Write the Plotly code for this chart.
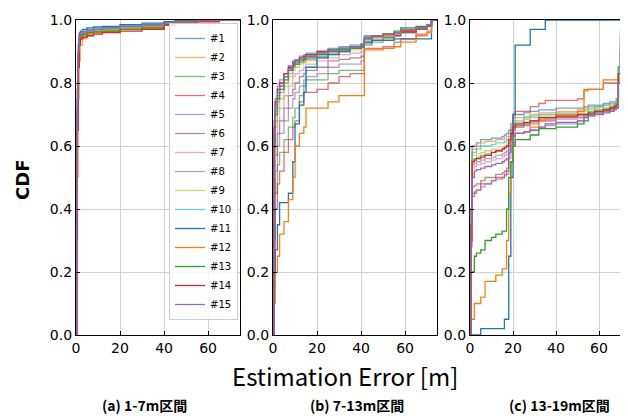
import plotly.graph_objects as go

names = ["#%d" % i for i in range(1, 16)]
colors = ["#1f77b4", "#ff7f0e", "#2ca02c", "#d62728", "#9467bd",
          "#8c564b", "#e377c2", "#7f7f7f", "#bcbd22", "#17becf",
          "#1f77b4", "#ff7f0e", "#2ca02c", "#d62728", "#9467bd"]

# (a) 1-7m
xa = [0, 0.3, 0.6, 1.0, 1.5, 2, 3, 5, 8, 12, 20, 30, 40, 45, 55, 65, 75]
ya = [
    [0, 0.4, 0.75, 0.9, 0.95, 0.96, 0.965, 0.97, 0.975, 0.975, 0.98, 0.985, 0.99, 0.995, 0.998, 1.0, 1.0],
    [0, 0.2, 0.5, 0.75, 0.87, 0.92, 0.94, 0.95, 0.96, 0.965, 0.97, 0.98, 0.99, 0.995, 0.998, 1.0, 1.0],
    [0, 0.35, 0.7, 0.88, 0.94, 0.95, 0.955, 0.96, 0.965, 0.965, 0.97, 0.975, 0.985, 1.0, 1.0, 1.0, 1.0],
    [0, 0.3, 0.68, 0.86, 0.93, 0.945, 0.95, 0.955, 0.96, 0.965, 0.97, 0.975, 0.985, 0.99, 0.995, 1.0, 1.0],
    [0, 0.38, 0.72, 0.89, 0.945, 0.955, 0.96, 0.965, 0.97, 0.975, 0.98, 0.985, 0.99, 0.995, 0.998, 1.0, 1.0],
    [0, 0.33, 0.7, 0.87, 0.94, 0.95, 0.955, 0.96, 0.965, 0.97, 0.975, 0.98, 0.99, 0.995, 0.998, 1.0, 1.0],
    [0, 0.36, 0.72, 0.88, 0.94, 0.955, 0.96, 0.965, 0.97, 0.975, 0.978, 0.983, 0.99, 0.995, 0.998, 1.0, 1.0],
    [0, 0.35, 0.71, 0.88, 0.94, 0.95, 0.958, 0.963, 0.968, 0.972, 0.977, 0.982, 0.99, 0.995, 0.998, 1.0, 1.0],
    [0, 0.34, 0.7, 0.87, 0.935, 0.95, 0.955, 0.962, 0.967, 0.97, 0.975, 0.98, 0.988, 0.995, 0.998, 1.0, 1.0],
    [0, 0.37, 0.73, 0.89, 0.945, 0.958, 0.963, 0.968, 0.972, 0.976, 0.98, 0.985, 0.99, 0.995, 0.998, 1.0, 1.0],
    [0, 0.42, 0.78, 0.92, 0.958, 0.965, 0.97, 0.975, 0.978, 0.98, 0.985, 0.99, 0.995, 0.998, 1.0, 1.0, 1.0],
    [0, 0.3, 0.65, 0.85, 0.92, 0.94, 0.95, 0.955, 0.96, 0.965, 0.97, 0.975, 0.985, 0.99, 0.995, 1.0, 1.0],
    [0, 0.36, 0.71, 0.88, 0.94, 0.95, 0.955, 0.96, 0.962, 0.965, 0.97, 0.975, 0.985, 1.0, 1.0, 1.0, 1.0],
    [0, 0.3, 0.65, 0.85, 0.92, 0.94, 0.945, 0.95, 0.955, 0.96, 0.965, 0.97, 0.985, 0.99, 0.995, 1.0, 1.0],
    [0, 0.4, 0.75, 0.9, 0.95, 0.958, 0.962, 0.966, 0.97, 0.975, 0.98, 0.985, 0.99, 0.995, 0.998, 1.0, 1.0],
]

# (b) 7-13m
xb = [0, 0.5, 1, 2, 3, 5, 7, 9, 10, 12, 14, 15, 20, 25, 30, 35, 40, 41.5, 45, 50, 55, 58, 65, 70, 72, 75]
yb = [
    [0, 0.68, 0.75, 0.79, 0.81, 0.83, 0.855, 0.87, 0.875, 0.885, 0.89, 0.895, 0.9, 0.91, 0.915, 0.92, 0.925, 0.95, 0.95, 0.955, 0.96, 0.965, 0.975, 0.985, 1.0, 1.0],
    [0, 0.6, 0.71, 0.76, 0.79, 0.82, 0.845, 0.86, 0.865, 0.875, 0.88, 0.885, 0.895, 0.9, 0.905, 0.91, 0.915, 0.94, 0.945, 0.95, 0.955, 0.965, 0.975, 0.985, 1.0, 1.0],
    [0, 0.3, 0.45, 0.54, 0.58, 0.62, 0.66, 0.69, 0.72, 0.76, 0.79, 0.81, 0.81, 0.83, 0.84, 0.84, 0.84, 0.92, 0.93, 0.94, 0.95, 0.96, 0.97, 0.98, 1.0, 1.0],
    [0, 0.2, 0.4, 0.48, 0.52, 0.58, 0.62, 0.66, 0.68, 0.74, 0.77, 0.77, 0.78, 0.8, 0.82, 0.83, 0.83, 0.91, 0.91, 0.915, 0.93, 0.94, 0.955, 0.965, 1.0, 1.0],
    [0, 0.38, 0.52, 0.6, 0.64, 0.68, 0.72, 0.75, 0.77, 0.79, 0.81, 0.82, 0.83, 0.85, 0.86, 0.86, 0.87, 0.925, 0.935, 0.945, 0.95, 0.96, 0.97, 0.98, 1.0, 1.0],
    [0, 0.45, 0.57, 0.64, 0.68, 0.72, 0.76, 0.78, 0.8, 0.82, 0.83, 0.84, 0.85, 0.87, 0.875, 0.88, 0.885, 0.93, 0.935, 0.945, 0.95, 0.96, 0.97, 0.98, 1.0, 1.0],
    [0, 0.5, 0.62, 0.68, 0.72, 0.76, 0.79, 0.82, 0.83, 0.84, 0.85, 0.86, 0.87, 0.88, 0.89, 0.895, 0.9, 0.935, 0.94, 0.95, 0.955, 0.965, 0.975, 0.985, 1.0, 1.0],
    [0, 0.58, 0.68, 0.74, 0.77, 0.8, 0.83, 0.85, 0.86, 0.865, 0.87, 0.875, 0.885, 0.895, 0.905, 0.91, 0.915, 0.94, 0.945, 0.95, 0.955, 0.965, 0.975, 0.985, 1.0, 1.0],
    [0, 0.55, 0.66, 0.72, 0.75, 0.79, 0.82, 0.84, 0.85, 0.86, 0.865, 0.87, 0.88, 0.89, 0.9, 0.905, 0.91, 0.94, 0.945, 0.95, 0.955, 0.965, 0.975, 0.985, 1.0, 1.0],
    [0, 0.62, 0.72, 0.76, 0.79, 0.82, 0.845, 0.86, 0.865, 0.875, 0.88, 0.885, 0.895, 0.905, 0.91, 0.915, 0.92, 0.945, 0.95, 0.955, 0.96, 0.97, 0.975, 0.985, 1.0, 1.0],
    [0, 0.15, 0.27, 0.35, 0.42, 0.42, 0.45, 0.55, 0.67, 0.73, 0.77, 0.85, 0.88, 0.89, 0.9, 0.91, 0.915, 0.93, 0.935, 0.935, 0.94, 0.94, 0.94, 0.94, 1.0, 1.0],
    [0, 0.1, 0.2, 0.25, 0.32, 0.36, 0.43, 0.5, 0.6, 0.64, 0.66, 0.72, 0.72, 0.74, 0.76, 0.76, 0.76, 0.905, 0.905, 0.91, 0.915, 0.93, 0.95, 0.96, 1.0, 1.0],
    [0, 0.6, 0.7, 0.75, 0.78, 0.81, 0.84, 0.855, 0.86, 0.87, 0.875, 0.88, 0.89, 0.9, 0.905, 0.91, 0.915, 0.94, 0.95, 0.955, 0.965, 0.975, 0.98, 0.985, 1.0, 1.0],
    [0, 0.66, 0.74, 0.78, 0.8, 0.83, 0.85, 0.865, 0.87, 0.88, 0.885, 0.89, 0.9, 0.905, 0.91, 0.915, 0.92, 0.945, 0.95, 0.955, 0.96, 0.965, 0.975, 0.985, 1.0, 1.0],
    [0, 0.64, 0.73, 0.77, 0.79, 0.82, 0.845, 0.86, 0.87, 0.875, 0.88, 0.885, 0.895, 0.905, 0.91, 0.915, 0.92, 0.945, 0.95, 0.955, 0.96, 0.97, 0.975, 0.985, 1.0, 1.0],
]

# (c) 13-19m
xc = [0, 0.5, 1, 2, 3, 5, 7, 10, 12, 15, 16, 17, 18, 19, 20, 21, 25, 28, 32, 35, 40, 50, 53, 55, 58, 62, 65, 67, 68, 69, 70, 78]
yc = [
    [0, 0.4, 0.6, 0.6, 0.61, 0.62, 0.62, 0.625, 0.625, 0.63, 0.635, 0.64, 0.65, 0.67, 0.69, 0.7, 0.705, 0.71, 0.715, 0.715, 0.72, 0.72, 0.725, 0.73, 0.73, 0.735, 0.74, 0.74, 0.75, 0.85, 0.96, 0.96],
    [0, 0.4, 0.59, 0.59, 0.6, 0.61, 0.615, 0.615, 0.62, 0.62, 0.625, 0.63, 0.64, 0.66, 0.68, 0.69, 0.695, 0.7, 0.705, 0.705, 0.71, 0.715, 0.72, 0.725, 0.725, 0.73, 0.73, 0.735, 0.74, 0.85, 0.95, 0.95],
    [0, 0.35, 0.555, 0.56, 0.565, 0.57, 0.575, 0.58, 0.585, 0.59, 0.595, 0.6, 0.62, 0.64, 0.66, 0.665, 0.67, 0.68, 0.69, 0.69, 0.695, 0.7, 0.7, 0.71, 0.715, 0.72, 0.725, 0.73, 0.735, 0.84, 0.93, 0.93],
    [0, 0.3, 0.44, 0.45, 0.46, 0.48, 0.48, 0.49, 0.5, 0.5, 0.51, 0.52, 0.6, 0.65, 0.7, 0.71, 0.71, 0.725, 0.735, 0.745, 0.745, 0.75, 0.78, 0.78, 0.78, 0.8, 0.8, 0.8, 0.8, 0.8, 0.8, 0.8],
    [0, 0.28, 0.45, 0.455, 0.46, 0.47, 0.48, 0.49, 0.495, 0.5, 0.505, 0.51, 0.56, 0.6, 0.63, 0.64, 0.645, 0.65, 0.66, 0.665, 0.67, 0.68, 0.69, 0.7, 0.71, 0.715, 0.72, 0.72, 0.72, 0.8, 0.9, 0.9],
    [0, 0.3, 0.47, 0.475, 0.48, 0.49, 0.5, 0.5, 0.51, 0.515, 0.52, 0.53, 0.58, 0.62, 0.65, 0.66, 0.665, 0.67, 0.68, 0.68, 0.69, 0.69, 0.695, 0.7, 0.705, 0.71, 0.715, 0.72, 0.72, 0.8, 0.9, 0.9],
    [0, 0.32, 0.53, 0.535, 0.54, 0.545, 0.55, 0.555, 0.56, 0.565, 0.57, 0.575, 0.6, 0.62, 0.645, 0.66, 0.665, 0.675, 0.68, 0.68, 0.685, 0.69, 0.695, 0.7, 0.705, 0.71, 0.72, 0.725, 0.73, 0.83, 0.92, 0.92],
    [0, 0.33, 0.54, 0.545, 0.55, 0.555, 0.56, 0.565, 0.57, 0.575, 0.58, 0.585, 0.61, 0.63, 0.655, 0.665, 0.67, 0.68, 0.685, 0.685, 0.69, 0.695, 0.7, 0.7, 0.705, 0.71, 0.715, 0.72, 0.73, 0.83, 0.92, 0.92],
    [0, 0.38, 0.57, 0.57, 0.575, 0.58, 0.585, 0.59, 0.59, 0.595, 0.6, 0.61, 0.62, 0.64, 0.66, 0.675, 0.685, 0.69, 0.695, 0.695, 0.7, 0.705, 0.71, 0.715, 0.72, 0.72, 0.725, 0.73, 0.74, 0.85, 0.94, 0.94],
    [0, 0.4, 0.58, 0.58, 0.59, 0.6, 0.6, 0.605, 0.61, 0.61, 0.615, 0.62, 0.63, 0.65, 0.67, 0.68, 0.69, 0.695, 0.7, 0.7, 0.705, 0.71, 0.715, 0.72, 0.725, 0.73, 0.735, 0.735, 0.74, 0.85, 0.95, 0.95],
    [0, 0, 0, 0, 0, 0.02, 0.02, 0.02, 0.02, 0.02, 0.05, 0.05, 0.25, 0.5, 0.7, 0.92, 0.92, 0.97, 0.97, 1.0, 1.0, 1.0, 1.0, 1.0, 1.0, 1.0, 1.0, 1.0, 1.0, 1.0, 1.0, 1.0],
    [0, 0.05, 0.05, 0.1, 0.1, 0.12, 0.17, 0.17, 0.19, 0.21, 0.21, 0.3, 0.45, 0.55, 0.6, 0.64, 0.645, 0.66, 0.68, 0.69, 0.7, 0.71, 0.775, 0.78, 0.78, 0.81, 0.81, 0.81, 0.81, 0.81, 0.81, 0.81],
    [0, 0.2, 0.2, 0.25, 0.26, 0.27, 0.3, 0.31, 0.32, 0.33, 0.33, 0.4, 0.5, 0.55, 0.6, 0.62, 0.62, 0.635, 0.655, 0.655, 0.66, 0.67, 0.68, 0.7, 0.71, 0.715, 0.72, 0.72, 0.72, 0.8, 0.87, 0.87],
    [0, 0.35, 0.55, 0.555, 0.56, 0.565, 0.57, 0.58, 0.585, 0.59, 0.595, 0.6, 0.62, 0.64, 0.66, 0.67, 0.675, 0.68, 0.69, 0.69, 0.695, 0.7, 0.7, 0.705, 0.71, 0.715, 0.72, 0.725, 0.73, 0.83, 0.9, 0.9],
    [0, 0.3, 0.5, 0.52, 0.525, 0.53, 0.535, 0.54, 0.545, 0.55, 0.555, 0.56, 0.58, 0.6, 0.63, 0.64, 0.645, 0.65, 0.66, 0.67, 0.675, 0.68, 0.69, 0.695, 0.7, 0.705, 0.71, 0.715, 0.72, 0.8, 0.97, 0.97],
]

captions = ["(a) 1-7m区間", "(b) 7-13m区間", "(c) 13-19m区間"]

fig = go.Figure()
panels = [(xa, ya, "x", "y"), (xb, yb, "x2", "y2"), (xc, yc, "x3", "y3")]
for p, (xs, ys, xr, yr) in enumerate(panels):
    for i in range(15):
        fig.add_trace(go.Scatter(
            x=xs, y=ys[i], mode="lines", line_shape="hv",
            line=dict(color=colors[i], width=1.3),
            opacity=0.65 if i < 10 else 1.0,
            name=names[i], legendgroup=names[i], showlegend=(p == 0),
            xaxis=xr, yaxis=yr))

tick_font = dict(family="DejaVu Sans", size=14, color="black")
ax = dict(showline=True, linecolor="black", linewidth=1.2, ticks="inside", ticklen=4,
          tickcolor="black", showgrid=True, gridcolor="#d0d0d0", gridwidth=1.3,
          zeroline=False, tickfont=tick_font, automargin=False)

# page has an 8px body margin, so everything is placed 8px up/left
W, H, off = 628, 416, 8
y0, y1 = 1 - (335 - off) / H, 1 - (20 - off) / H
fig.update_layout(
    width=W, height=H, margin=dict(l=0, r=0, t=0, b=0, autoexpand=False),
    plot_bgcolor="white", paper_bgcolor="white",
    xaxis=dict(ax, domain=[(76 - off) / W, (240 - off) / W], range=[0, 74.5], tickvals=[0, 20, 40, 60], mirror=True, anchor="y"),
    xaxis2=dict(ax, domain=[(273 - off) / W, (437 - off) / W], range=[0, 74.5], tickvals=[0, 20, 40, 60], mirror=True, anchor="y2"),
    xaxis3=dict(ax, domain=[(470 - off) / W, 1.0], range=[0, 77.2], tickvals=[0, 20, 40, 60], mirror=True, anchor="y3"),
    yaxis=dict(ax, domain=[y0, y1], range=[0, 1], dtick=0.2, tickformat=".1f", mirror=True, anchor="x"),
    yaxis2=dict(ax, domain=[y0, y1], range=[0, 1], dtick=0.2, tickformat=".1f", mirror=True, anchor="x2"),
    yaxis3=dict(ax, domain=[y0, y1], range=[0, 1], dtick=0.2, tickformat=".1f", mirror=False, anchor="x3"),
    legend=dict(x=(238 - off) / W, y=1 - (23 - off) / H, xanchor="right", yanchor="top",
                font=dict(family="DejaVu Sans", size=10, color="black"),
                bgcolor="rgba(255,255,255,0.85)", bordercolor="#cccccc", borderwidth=1,
                itemwidth=30, tracegroupgap=0),
)

fig.add_annotation(text="<b>CDF</b>", x=(22 - off) / W, y=1 - (180 - off) / H, xref="paper", yref="paper",
                   xanchor="center", yanchor="middle", textangle=-90, showarrow=False,
                   font=dict(family="DejaVu Sans", size=18, color="black"))
fig.add_annotation(text="Estimation Error [m]", x=(345 - off) / W, y=1 - (375 - off) / H, xref="paper", yref="paper",
                   xanchor="center", yanchor="middle", showarrow=False,
                   font=dict(family="Noto Sans CJK JP", size=24, color="black"))
for cx, cap in zip([144, 357, 559], captions):
    fig.add_annotation(text="<b>" + cap + "</b>", x=(cx - off) / W, y=1 - (405 - off) / H, xref="paper", yref="paper",
                       xanchor="center", yanchor="middle", showarrow=False,
                       font=dict(family="Noto Sans CJK JP", size=14, color="black"))

fig.write_html("out.html")
